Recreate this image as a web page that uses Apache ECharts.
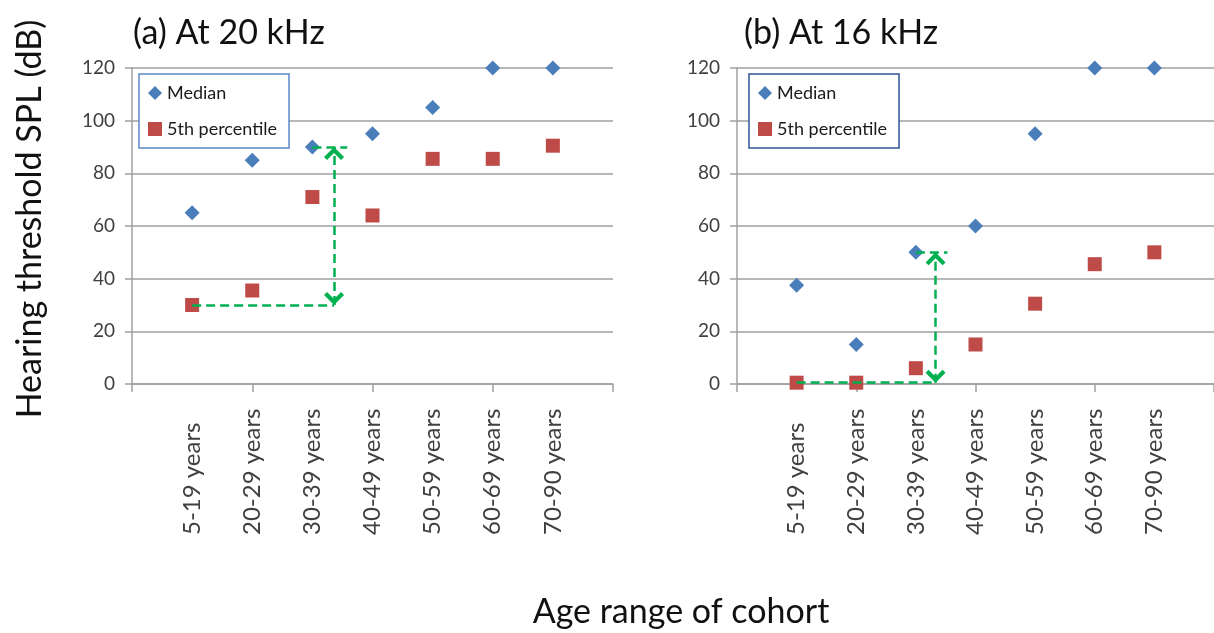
<!DOCTYPE html>
<html>
<head>
<meta charset="utf-8">
<script src="https://cdn.jsdelivr.net/npm/echarts@6.0.0/dist/echarts.min.js"></script>
<style>
  html, body { margin: 0; padding: 0; background: #fff; }
  #main { width: 1214px; height: 633px; }
</style>
</head>
<body>
<div id="main"></div>
<script>
var myChart = echarts.init(document.getElementById('main'));

// age cohorts (x positions 1..7)
var ages = ['5-19 years', '20-29 years', '30-39 years', '40-49 years', '50-59 years', '60-69 years', '70-90 years'];

// (a) 20 kHz
var median20 = [65, 85, 90, 95, 105, 120, 120];
var pct5_20 = [30, 35.5, 71, 64, 85.5, 85.5, 90.5];

// (b) 16 kHz
var median16 = [37.5, 15, 50, 60, 95, 120, 120];
var pct5_16 = [0.5, 0.5, 6, 15, 30.5, 45.5, 50];

// green arrow annotation: x of the vertical arrow, x where the top dash ends
var arrowX = [3.36, 3.33];
var arrowEndX = [3.58, 3.53];

var xTicks = [0, 2, 4, 6, 8];
var xLabelPos = [1, 2, 3, 4, 5, 6, 7];

var gridColor = '#a0a0a0';
var font = 'Lato';
// open chevron, tip at centre of its box
var chevron = 'path://M8,0 L16,8.2 L13.6,10.6 L8,4.8 L2.4,10.6 L0,8.2 Z M8,-10.6 L8.01,-10.6 Z';

function pts(vals) {
    return vals.map(function (v, i) { return [i + 1, v]; });
}

function xAxisFor(idx) {
    return {
        type: 'value', gridIndex: idx, min: 0, max: 8,
        axisLine: { show: true, lineStyle: { color: gridColor, width: 1.5 } },
        axisTick: { show: true, customValues: xTicks, length: 8, lineStyle: { color: gridColor, width: 1.5 } },
        axisLabel: {
            customValues: xLabelPos,
            formatter: function (v) { return ages[v - 1] || ''; },
            rotate: 90, align: 'left', verticalAlign: 'middle', margin: 151,
            fontFamily: font, fontSize: 24, color: '#404040'
        },
        splitLine: { show: false }
    };
}

function yAxisFor(idx) {
    return {
        type: 'value', gridIndex: idx, min: 0, max: 120, interval: 20,
        axisLine: { show: true, lineStyle: { color: gridColor, width: 1.5 } },
        axisTick: { show: true, length: 7, lineStyle: { color: gridColor, width: 1.5 } },
        axisLabel: { margin: 17, fontFamily: font, fontSize: 19, color: '#404040' },
        splitLine: { show: true, lineStyle: { color: gridColor, width: 1.5 } }
    };
}

function arrowLines(k, low, high) {
    var ax = arrowX[k];
    return {
        silent: true, symbol: 'none', animation: false,
        label: { show: false },
        lineStyle: { color: '#00b050', width: 2.5, type: [9, 5], opacity: 1 },
        emphasis: { disabled: true },
        data: [
            [{ coord: [1, low] }, { coord: [ax, low] }],
            [{ coord: [ax, low], symbol: chevron, symbolSize: [20, 26] },
             { coord: [ax, high], symbol: chevron, symbolSize: [20, 26] }],
            [{ coord: [3, high] }, { coord: [arrowEndX[k], high] }]
        ]
    };
}

function legendFor(left, border) {
    return {
        left: left, top: 74, orient: 'vertical',
        data: ['Median', '5th percentile'],
        itemWidth: 14, itemHeight: 14, itemGap: 18,
        padding: [10, 12, 10, 9],
        backgroundColor: '#fff', borderColor: border, borderWidth: 1.5,
        textStyle: { fontFamily: font, fontSize: 18, color: '#1a1a1a' }
    };
}

function scatter(name, idx, vals, symbol, color, size, extra) {
    var s = {
        name: name, type: 'scatter', xAxisIndex: idx, yAxisIndex: idx,
        symbol: symbol, symbolSize: size,
        itemStyle: { color: color, opacity: 1 },
        data: pts(vals)
    };
    if (extra) s.markLine = extra;
    return s;
}

var blue = '#4a7ebb', red = '#be4b48';

myChart.setOption({
    backgroundColor: '#fff',
    animation: false,
    title: [
        { text: '(a) At 20 kHz', left: 128, top: 11, textStyle: { fontFamily: font, fontSize: 34, fontWeight: 'normal', color: '#111' } },
        { text: '(b) At 16 kHz', left: 739, top: 11, textStyle: { fontFamily: font, fontSize: 34, fontWeight: 'normal', color: '#111' } }
    ],
    legend: [legendFor(139, '#5b87c7'), legendFor(749, '#2f5597')],
    grid: [
        { left: 132, top: 68, width: 481, height: 316 },
        { left: 737, top: 68, width: 483, height: 316 }
    ],
    xAxis: [xAxisFor(0), xAxisFor(1)],
    yAxis: [yAxisFor(0), yAxisFor(1)],
    graphic: [
        {
            type: 'text', x: 30, y: 219, rotation: Math.PI / 2,
            style: { text: 'Hearing threshold SPL (dB)', fontFamily: font, fontSize: 34, fill: '#111', align: 'center', verticalAlign: 'middle' }
        },
        {
            type: 'text', x: 681, y: 612,
            style: { text: 'Age range of cohort', fontFamily: font, fontSize: 34, fill: '#111', align: 'center', verticalAlign: 'middle' }
        }
    ],
    series: [
        scatter('5th percentile', 0, pct5_20, 'rect', red, 14, arrowLines(0, pct5_20[0], median20[2])),
        scatter('Median', 0, median20, 'diamond', blue, 15),
        scatter('5th percentile', 1, pct5_16, 'rect', red, 14, arrowLines(1, pct5_16[0], median16[2])),
        scatter('Median', 1, median16, 'diamond', blue, 15)
    ]
});
</script>
</body>
</html>
